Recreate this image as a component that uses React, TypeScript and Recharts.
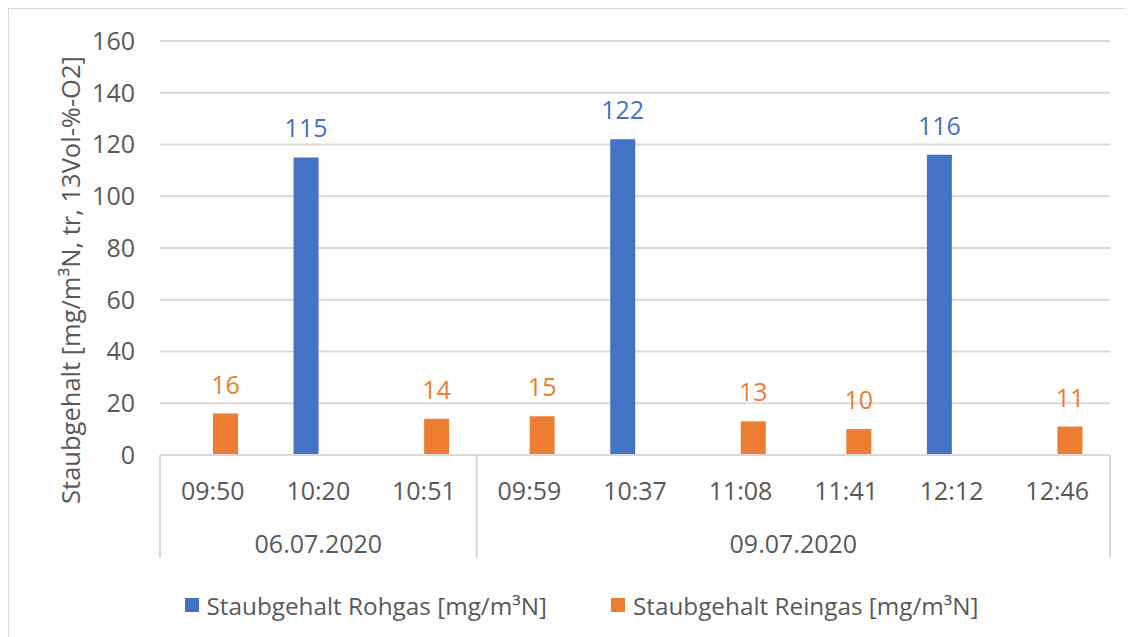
import {
  Bar,
  BarChart,
  CartesianGrid,
  LabelList,
  Legend,
  XAxis,
  YAxis,
} from 'recharts';

const times = ['09:50', '10:20', '10:51', '09:59', '10:37', '11:08', '11:41', '12:12', '12:46'];
const dates = ['06.07.2020', '09.07.2020'];
const groupSizes = [3, 6];
const rohgas = [null, 115, null, null, 122, null, null, 116, null];
const reingas = [16, null, 14, 15, null, 13, 10, null, 11];
const yTicks = [0, 20, 40, 60, 80, 100, 120, 140, 160];

const seriesNames = ['Staubgehalt Rohgas [mg/m³N]', 'Staubgehalt Reingas [mg/m³N]'];
const BLUE = '#4472C4';
const ORANGE = '#ED7D31';
const GRID = '#d9d9d9';
const TEXT = '#595959';
const FONT = '"Open Sans", sans-serif';
const FS = 25;

const data = times.map((t, i) => ({
  time: t,
  rohgas: rohgas[i],
  reingas: reingas[i],
}));

// first index of each date group
const groupStarts = groupSizes.map((_, g) => groupSizes.slice(0, g).reduce((a, b) => a + b, 0));

function TwoLevelTick(props: any) {
  const { x, y, payload } = props;
  const idx = payload.index;
  const half = payload.offset || 950 / times.length / 2;
  const g = groupStarts.indexOf(idx);
  const axisH = 103;
  return (
    <g>
      <text
        x={x}
        y={y + 35}
        textAnchor="middle"
        dominantBaseline="central"
        fill={TEXT}
        fontSize={FS}
        fontFamily={FONT}
      >
        {payload.value}
      </text>
      {g >= 0 && (
        <>
          <line x1={x - half} x2={x - half} y1={y} y2={y + axisH} stroke={GRID} strokeWidth={2} />
          <text
            x={x - half + groupSizes[g] * half}
            y={y + 88}
            textAnchor="middle"
            dominantBaseline="central"
            fill={TEXT}
            fontSize={FS}
            fontFamily={FONT}
          >
            {dates[g]}
          </text>
        </>
      )}
      {idx === times.length - 1 && (
        <line x1={x + half} x2={x + half} y1={y} y2={y + axisH} stroke={GRID} strokeWidth={2} />
      )}
    </g>
  );
}

function LegendBox() {
  const colors = [BLUE, ORANGE];
  return (
    <div
      style={{
        height: 69,
        boxSizing: 'border-box',
        paddingTop: 25,
        paddingLeft: 44,
        display: 'flex',
        justifyContent: 'center',
        alignItems: 'center',
        gap: 64,
        fontFamily: FONT,
        fontSize: 24.3,
        color: TEXT,
      }}
    >
      {seriesNames.map((n, i) => (
        <div key={n} style={{ display: 'flex', alignItems: 'center', gap: 8 }}>
          <span style={{ width: 14, height: 14, background: colors[i], display: 'inline-block' }} />
          <span>{n}</span>
        </div>
      ))}
    </div>
  );
}

export default function App() {
  return (
    <div
      style={{
        width: 1126,
        height: 630,
        margin: '-1px 0 0 -1px',
        borderTop: `2px solid ${GRID}`,
        borderLeft: `2px solid ${GRID}`,
        boxSizing: 'border-box',
        background: '#fff',
      }}
    >
      <BarChart
        width={1120}
        height={618}
        data={data}
        margin={{ top: 32, right: 19, left: 0, bottom: 0 }}
        barGap={0}
        barSize={25}
      >
        <CartesianGrid vertical={false} stroke={GRID} strokeWidth={2} />
        <XAxis
          dataKey="time"
          interval={0}
          height={103}
          tickLine={false}
          tickSize={0}
          tickMargin={0}
          axisLine={{ stroke: GRID, strokeWidth: 2 }}
          tick={<TwoLevelTick />}
        />
        <YAxis
          width={151}
          domain={[0, 160]}
          ticks={yTicks}
          axisLine={false}
          tickLine={false}
          tickSize={0}
          tickMargin={25}
          tick={{ fill: TEXT, fontSize: FS, fontFamily: FONT }}
          label={{
            content: () => (
              <text
                x={61}
                y={271}
                transform="rotate(-90 61 271)"
                textAnchor="middle"
                dominantBaseline="central"
                fill={TEXT}
                fontSize={FS + 0.5}
                fontFamily={FONT}
              >
                Staubgehalt [mg/m³N, tr, 13Vol-%-O2]
              </text>
            ),
          }}
        />
        <Legend verticalAlign="bottom" content={<LegendBox />} />
        <Bar dataKey="rohgas" name={seriesNames[0]} fill={BLUE} isAnimationActive={false}>
          <LabelList
            dataKey="rohgas"
            position="top"
            offset={20}
            fill={BLUE}
            fontSize={FS}
            fontFamily={FONT}
            formatter={(v: any) => (v == null ? '' : v)}
          />
        </Bar>
        <Bar dataKey="reingas" name={seriesNames[1]} fill={ORANGE} isAnimationActive={false}>
          <LabelList
            dataKey="reingas"
            position="top"
            offset={20}
            fill={ORANGE}
            fontSize={FS}
            fontFamily={FONT}
            formatter={(v: any) => (v == null ? '' : v)}
          />
        </Bar>
      </BarChart>
    </div>
  );
}
